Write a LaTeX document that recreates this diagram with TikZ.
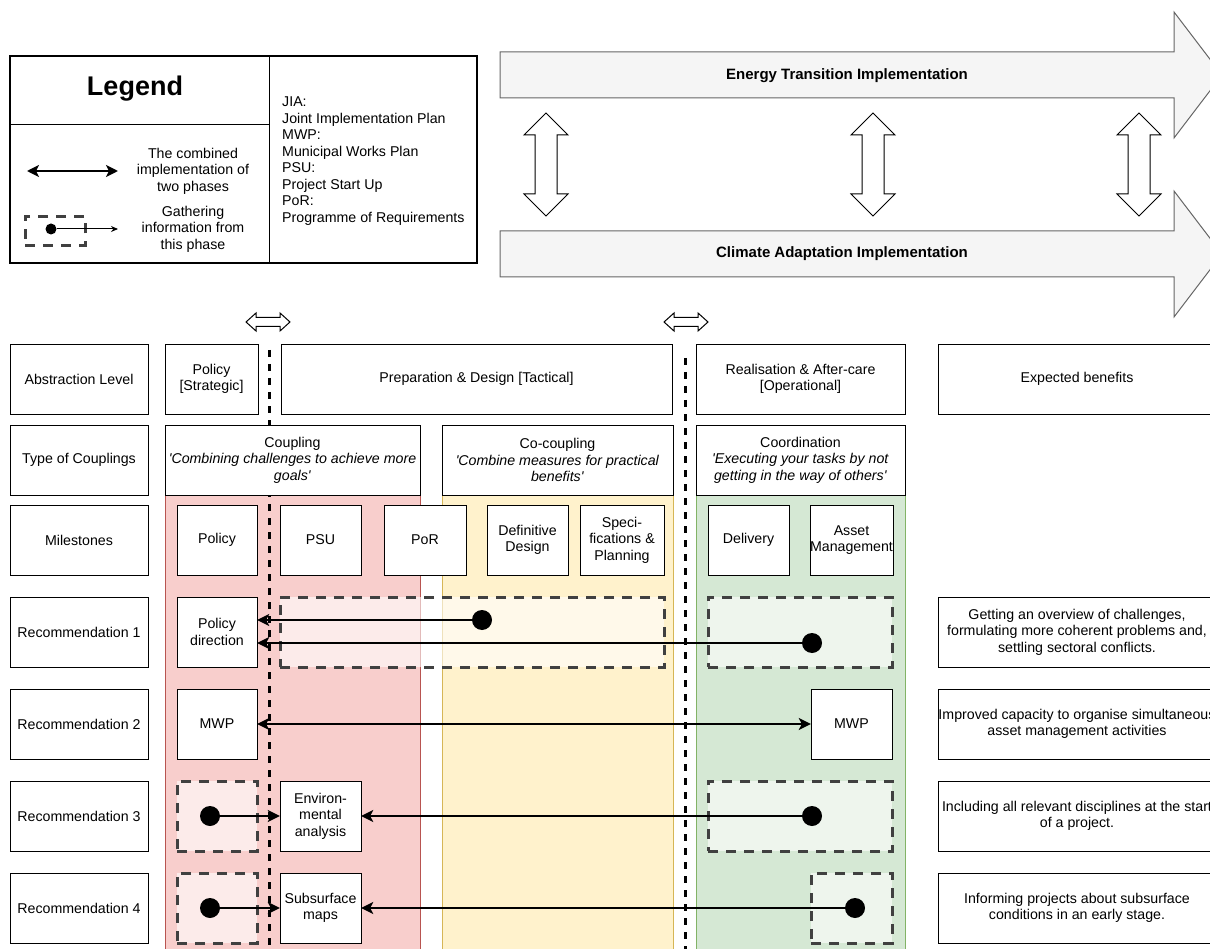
\documentclass[tikz,border=0pt]{standalone}
\usepackage{fontspec}
\setmainfont{Liberation Sans}
\usepackage{xcolor}
\usepackage{tikz}
\usetikzlibrary{arrows.meta}

\definecolor{redfill}{HTML}{F8CECC}
\definecolor{redline}{HTML}{B85450}
\definecolor{yellowfill}{HTML}{FFF2CC}
\definecolor{yellowline}{HTML}{D6B656}
\definecolor{greenfill}{HTML}{D5E8D4}
\definecolor{greenline}{HTML}{82B366}
\definecolor{flowfill}{HTML}{F5F5F5}
\definecolor{flowline}{HTML}{666666}
\definecolor{gatherline}{HTML}{404040}

\begin{document}
\begin{tikzpicture}[x=1pt, y=-1pt, font=\fontsize{14.2}{16.5}\selectfont,
                % Define styles
                cell/.style={rectangle, draw, fill=white, minimum height=70pt, align=center, inner sep=0pt},
                rowhead/.style={cell, minimum width=138pt},
                milestone/.style={cell, minimum width=81pt},
                benefit/.style={cell, minimum width=278pt},
                gather/.style={rectangle, draw=gatherline, line width=3pt, dash pattern=on 10pt off 8pt, fill=white, fill opacity=0.6, minimum height=70pt, inner sep=0pt},
                infodot/.style={circle, fill=black, minimum size=20pt, inner sep=0pt},
                link/.style={draw, line width=2pt, -{Stealth[length=12pt, width=12pt, inset=3pt]}},
                combined/.style={draw, line width=2pt, {Stealth[length=12pt, width=12pt, inset=3pt]}-{Stealth[length=12pt, width=12pt, inset=3pt]}},
                lane/.style={draw=#1line, fill=#1fill, line width=0.8pt},
                flow/.style={draw=flowline, fill=flowfill, line width=1pt},
                hollow/.style={draw, fill=white, line width=1pt},
                phaseline/.style={line width=3pt, dash pattern=on 7pt off 7pt}
            ]
            \useasboundingbox (0,0) rectangle (1210,949);

            % --- Legend ---
            \draw [line width=1.2pt] (10,56) rectangle (477,263);
            \draw [line width=1pt] (269,56) -- (269,263);
            \draw [line width=1pt] (10,125) -- (269,125);
            \node [font=\fontsize{27}{32}\selectfont\bfseries] (legendtitle) at (135,89) {Legend};

            \coordinate (legendleft) at (27,171);
            \coordinate (legendright) at (118,171);
            \path [combined, line width=2.5pt] (legendleft) -- (legendright);
            \node [align=center] (legendcombined) at (193,171) {The combined\\implementation of\\two phases};

            \node [gather, minimum width=60pt, minimum height=29pt] (legendgather) at (55,231) {};
            \node [infodot, minimum size=11pt] (legenddot) at (51,229) {};
            \coordinate (legendtip) at (118,229);
            \path [draw, line width=1pt, -{Stealth[length=7pt, width=6pt]}] (legenddot) -- (legendtip);
            \node [align=center] (legendgathering) at (193,229) {Gathering\\information from\\this phase};

            \node [align=left, anchor=west, inner sep=0pt] (abbrev) at (282,161) {JIA:\\Joint Implementation Plan\\MWP:\\Municipal Works Plan\\PSU:\\Project Start Up\\PoR:\\Programme of Requirements};

            % --- Implementation streams ---
            \draw [flow] (500,52) -- (1174,52) -- (1174,12) -- (1222,75) -- (1174,138) -- (1174,98) -- (500,98) -- cycle;
            \node [font=\fontsize{15}{18}\selectfont\bfseries] (energy) at (847,76) {Energy Transition Implementation};
            \draw [flow] (500,231) -- (1174,231) -- (1174,191) -- (1222,254) -- (1174,317) -- (1174,277) -- (500,277) -- cycle;
            \node [font=\fontsize{15}{18}\selectfont\bfseries] (climate) at (842,254) {Climate Adaptation Implementation};
            \foreach \cx in {546,873,1139}
                \draw [hollow] (\cx,113) -- ++(22,22) -- ++(-11,0) -- (\cx+11,194) -- ++(11,0) -- (\cx,216) -- ++(-22,-22) -- ++(11,0) -- (\cx-11,135) -- ++(-11,0) -- cycle;
            \foreach \cx in {268,686}
                \draw [hollow] (\cx-22,322) -- ++(10,-9) -- ++(0,4.5) -- (\cx+12,317.5) -- ++(0,-4.5) -- (\cx+22,322) -- ++(-10,9) -- ++(0,-4.5) -- (\cx-12,326.5) -- ++(0,4.5) -- cycle;

            % --- Phase lanes ---
            \draw [lane=red] (165,425) rectangle (420,960);
            \draw [lane=yellow] (442,425) rectangle (673,960);
            \draw [lane=green] (696,425) rectangle (905,960);
            \draw [phaseline] (269,350) -- (269,949);
            \draw [phaseline] (685,358) -- (685,949);

            % --- Nodes ---

            % 1. Abstraction level
            \node [rowhead] (abstraction) at (79,379) {Abstraction Level};
            \node [cell, minimum width=93pt] (policyphase) at (211.5,379) {Policy\\{[Strategic]}};
            \node [cell, minimum width=391pt] (prepphase) at (476.5,379) {Preparation \& Design [Tactical]};
            \node [cell, minimum width=209pt] (realphase) at (800.5,379) {Realisation \& After-care\\{[Operational]}};
            \node [benefit] (benefithead) at (1077,379) {Expected benefits};

            % 2. Type of couplings
            \node [rowhead] (couplingtype) at (79,460) {Type of Couplings};
            \node [cell, minimum width=255pt] (coupling) at (292.5,460) {Coupling\\\textit{\textquotesingle Combining challenges to achieve more}\\\textit{goals\textquotesingle}};
            \node [cell, minimum width=231pt] (cocoupling) at (557.5,460) {Co-coupling\\\textit{\textquotesingle Combine measures for practical}\\\textit{benefits\textquotesingle}};
            \node [cell, minimum width=209pt] (coordination) at (800.5,460) {Coordination\\\textit{\textquotesingle Executing your tasks by not}\\\textit{getting in the way of others\textquotesingle}};

            % 3. Milestones
            \node [rowhead] (milestones) at (79,540) {Milestones};
            \node [milestone, minimum width=80pt] (mspolicy) at (217,540) {Policy};
            \node [milestone] (mspsu) at (320.5,540) {PSU};
            \node [milestone, minimum width=82pt] (mspor) at (425,540) {PoR};
            \node [milestone] (msdesign) at (527.5,540) {Definitive\\Design};
            \node [milestone, minimum width=84pt] (msspec) at (622,540) {Speci-\\fications \&\\Planning};
            \node [milestone] (msdelivery) at (748.5,540) {Delivery};
            \node [milestone] (msasset) at (851.5,540) {Asset\\Management};

            % 4. Recommendation 1
            \node [rowhead] (recone) at (79,632) {Recommendation 1};
            \node [milestone, minimum width=80pt] (policydir) at (217,632) {Policy\\direction};
            \node [gather, minimum width=384pt] (gatheronea) at (472,632) {};
            \node [gather, minimum width=184pt] (gatheroneb) at (800,632) {};
            \node [infodot] (dotonea) at (482,620) {};
            \node [infodot] (dotoneb) at (812,643) {};
            \node [benefit] (benefitone) at (1077,632) {Getting an overview of challenges,\\formulating more coherent problems and,\\settling sectoral conflicts.};

            % 5. Recommendation 2
            \node [rowhead] (rectwo) at (79,724) {Recommendation 2};
            \node [milestone, minimum width=80pt] (mwpleft) at (217,724) {MWP};
            \node [milestone] (mwpright) at (851.5,724) {MWP};
            \node [benefit] (benefittwo) at (1077,724) {Improved capacity to organise simultaneous\\asset management activities};

            % 6. Recommendation 3
            \node [rowhead] (recthree) at (79,816) {Recommendation 3};
            \node [gather, minimum width=80pt] (gatherthreea) at (217,816) {};
            \node [gather, minimum width=184pt] (gatherthreeb) at (800,816) {};
            \node [infodot] (dotthreea) at (210,816) {};
            \node [infodot] (dotthreeb) at (812,816) {};
            \node [milestone] (envanalysis) at (320.5,816) {Environ-\\mental\\analysis};
            \node [benefit] (benefitthree) at (1077,816) {Including all relevant disciplines at the start\\of a project.};

            % 7. Recommendation 4
            \node [rowhead] (recfour) at (79,908) {Recommendation 4};
            \node [gather, minimum width=80pt] (gatherfoura) at (217,908) {};
            \node [gather, minimum width=81pt] (gatherfourb) at (851.5,908) {};
            \node [infodot] (dotfoura) at (210,908) {};
            \node [infodot] (dotfourb) at (855,908) {};
            \node [milestone] (submaps) at (320.5,908) {Subsurface\\maps};
            \node [benefit] (benefitfour) at (1077,908) {Informing projects about subsurface\\conditions in an early stage.};

            % --- Edges ---
            \path [link] (dotonea) -- (dotonea -| policydir.east);
            \path [link] (dotoneb) -- (dotoneb -| policydir.east);
            \path [combined] (mwpleft) -- (mwpright);
            \path [link] (dotthreea) -- (envanalysis);
            \path [link] (dotthreeb) -- (envanalysis);
            \path [link] (dotfoura) -- (submaps);
            \path [link] (dotfourb) -- (submaps);

        \end{tikzpicture}
\end{document}
